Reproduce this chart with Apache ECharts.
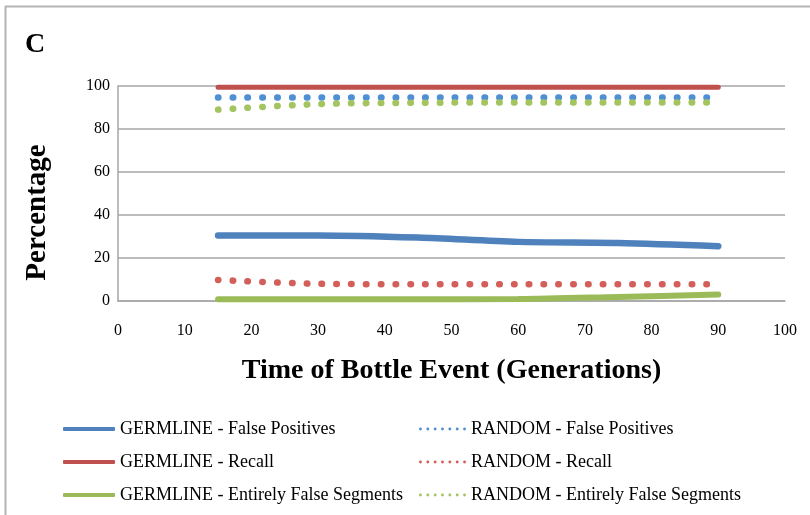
<!DOCTYPE html>
<html>
<head>
<meta charset="utf-8">
<script src="https://cdn.jsdelivr.net/npm/echarts@6/dist/echarts.min.js"></script>
<style>html,body{margin:0;padding:0;background:#fff}#c{width:810px;height:515px}</style>
</head>
<body>
<div id="c"></div>
<script>
// ---- data ----
var generations = [15, 30, 45, 60, 75, 90];
var germlineFalsePositives = [30.5, 30.5, 29.5, 27.5, 27.0, 25.5];
var germlineRecall = [99.4, 99.4, 99.4, 99.4, 99.4, 99.4];
var germlineEntirelyFalse = [0.8, 0.8, 0.8, 0.9, 1.9, 3.0];
var randomFalsePositives = [94.6, 94.6, 94.6, 94.6, 94.6, 94.6];
var randomRecall = [9.8, 8.0, 7.8, 7.8, 7.8, 7.8];
var randomEntirelyFalse = [89.0, 91.6, 92.2, 92.3, 92.3, 92.3];
var xTicks = [0, 10, 20, 30, 40, 50, 60, 70, 80, 90, 100];
var yTicks = [0, 20, 40, 60, 80, 100];
var seriesNames = [
  'GERMLINE - False Positives', 'GERMLINE - Recall', 'GERMLINE - Entirely False Segments',
  'RANDOM - False Positives', 'RANDOM - Recall', 'RANDOM - Entirely False Segments'
];

function pairs(ys) { return generations.map(function (g, i) { return [g, ys[i]]; }); }

// dotted legend icon: 7 small round dots
var dotPath = 'path://';
for (var i = 0; i < 7; i++) {
  var cx = 1.5 + i * 7.6;
  dotPath += 'M' + (cx - 1.5) + ' 1.5a1.5 1.5 0 1 0 3 0a1.5 1.5 0 1 0 -3 0Z';
}

var serif = '"Liberation Serif", "DejaVu Serif", serif';
var cBlue = '#4f81bd', cRed = '#c0504d', cGreen = '#9bbb59';
var dBlue = '#4f8fd3', dRed = '#d35f5a', dGreen = '#a3c45f';

function solid(name, ys, color, w) {
  return { name: name, type: 'line', data: pairs(ys), smooth: 0.3, symbol: 'none',
    lineStyle: { color: color, width: w, cap: 'round' }, itemStyle: { color: color } };
}
function dotted(name, ys, color) {
  return { name: name, type: 'line', data: pairs(ys), smooth: 0.3, symbol: 'none',
    lineStyle: { color: color, width: 6.5, type: [0.5, 14.3], cap: 'round' }, itemStyle: { color: color } };
}

var chart = echarts.init(document.getElementById('c'), null, { renderer: 'canvas' });
chart.setOption({
  animation: false,
  backgroundColor: '#ffffff',
  title: { text: 'C', left: 20, top: 26, textStyle: { fontFamily: serif, fontWeight: 'bold', fontSize: 28, color: '#000' } },
  graphic: [
    { type: 'line', shape: { x1: 5, y1: 6.5, x2: 810, y2: 6.5 }, style: { stroke: '#b4b4b4', lineWidth: 2 } },
    { type: 'line', shape: { x1: 5.5, y1: 6, x2: 5.5, y2: 515 }, style: { stroke: '#b4b4b4', lineWidth: 2 } }
  ],
  grid: { left: 118, right: 25, top: 86, bottom: 214, containLabel: false },
  xAxis: {
    type: 'value', min: xTicks[0], max: xTicks[xTicks.length - 1], interval: 10,
    name: 'Time of Bottle Event (Generations)', nameLocation: 'middle', nameGap: 56,
    nameTextStyle: { fontFamily: serif, fontWeight: 'bold', fontSize: 28, color: '#000' },
    axisLine: { show: true, lineStyle: { color: '#a6a6a6', width: 1.5 } },
    axisTick: { show: false }, splitLine: { show: false },
    axisLabel: { margin: 22, fontFamily: serif, fontSize: 16, color: '#000' }
  },
  yAxis: {
    type: 'value', min: yTicks[0], max: yTicks[yTicks.length - 1], interval: 20,
    name: 'Percentage', nameLocation: 'middle', nameGap: 66, nameRotate: 90,
    nameTextStyle: { fontFamily: serif, fontWeight: 'bold', fontSize: 29, color: '#000', padding: [0, 38, 0, 0] },
    axisLine: { show: true, lineStyle: { color: '#a6a6a6', width: 1.5 } },
    axisTick: { show: false },
    splitLine: { show: true, lineStyle: { color: '#a6a6a6', width: 1.5 } },
    axisLabel: { margin: 8, fontFamily: serif, fontSize: 16, color: '#000' }
  },
  legend: [
    { orient: 'vertical', left: 63, top: 419, padding: 0, itemWidth: 52, itemHeight: 4, itemGap: 13,
      icon: 'roundRect', data: seriesNames.slice(0, 3),
      textStyle: { fontFamily: serif, fontSize: 18, color: '#000', lineHeight: 20 } },
    { orient: 'vertical', left: 419, top: 419, padding: 0, itemWidth: 47, itemHeight: 3, itemGap: 13,
      icon: dotPath, data: seriesNames.slice(3, 6),
      textStyle: { fontFamily: serif, fontSize: 18, color: '#000', lineHeight: 20 } }
  ],
  series: [
    solid(seriesNames[0], germlineFalsePositives, cBlue, 6.5),
    solid(seriesNames[1], germlineRecall, cRed, 5),
    solid(seriesNames[2], germlineEntirelyFalse, cGreen, 6),
    dotted(seriesNames[3], randomFalsePositives, dBlue),
    dotted(seriesNames[4], randomRecall, dRed),
    dotted(seriesNames[5], randomEntirelyFalse, dGreen)
  ]
});
</script>
</body>
</html>
